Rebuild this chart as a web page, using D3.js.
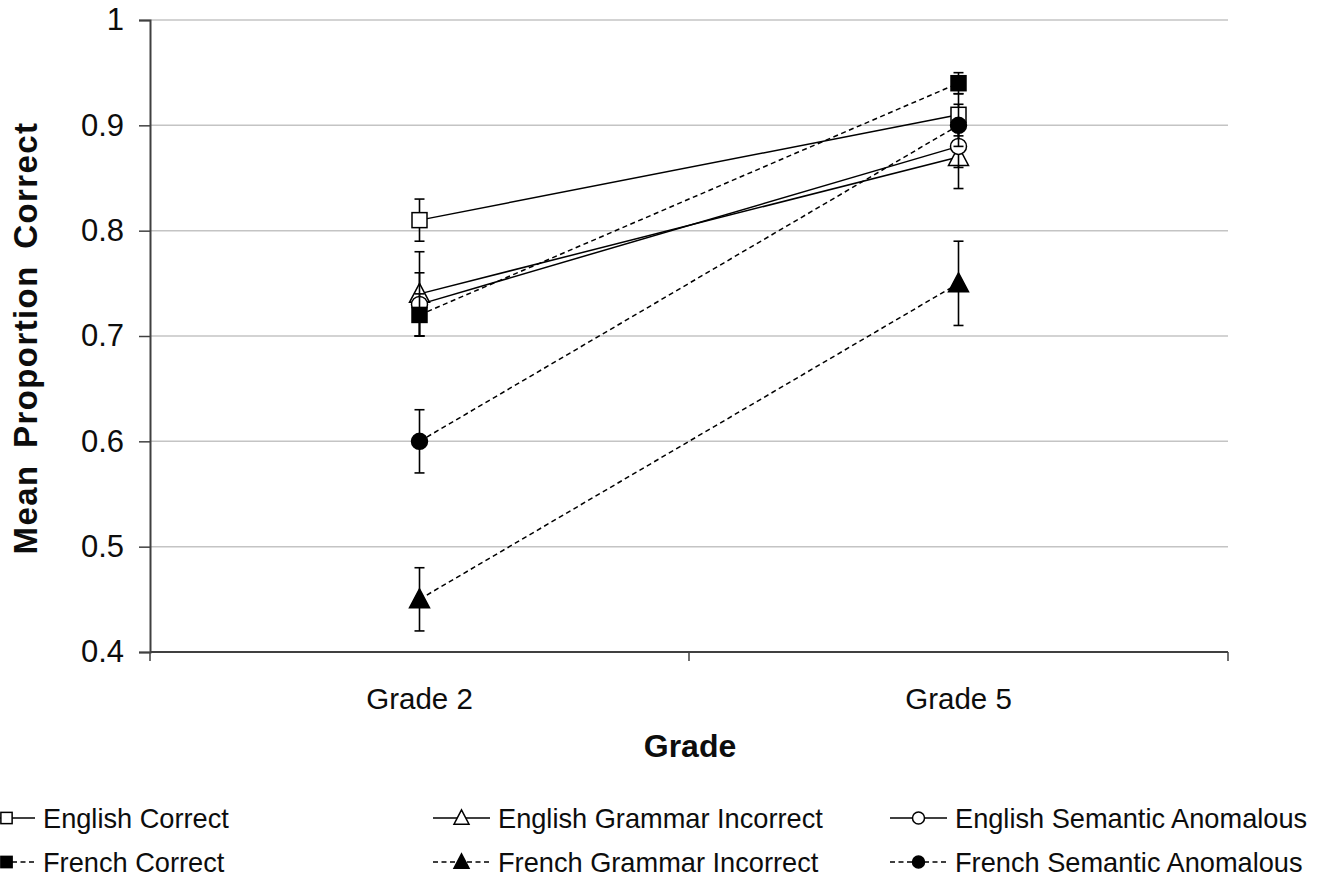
<!DOCTYPE html>
<html>
<head>
<meta charset="utf-8">
<script src="https://cdn.jsdelivr.net/npm/d3@7"></script>
<style>
  html, body { margin: 0; padding: 0; background: #fff; }
  svg { display: block; font-family: "Liberation Sans", Arial, sans-serif; }
</style>
</head>
<body>
<svg id="chart" width="1342" height="884"></svg>
<script>
// Grades on the x axis
const grades = ["Grade 2", "Grade 5"];

// Series names, in legend / drawing order
const seriesNames = [
  "English Correct", "English Grammar Incorrect", "English Semantic Anomalous",
  "French Correct", "French Grammar Incorrect", "French Semantic Anomalous"
];

// Mean proportion correct for each series (Grade 2, Grade 5)
const englishCorrect   = [0.81, 0.91];
const englishGrammar   = [0.74, 0.87];
const englishSemantic  = [0.73, 0.88];
const frenchCorrect    = [0.72, 0.94];
const frenchGrammar    = [0.45, 0.75];
const frenchSemantic   = [0.60, 0.90];

// Error bar half-widths (Grade 2, Grade 5)
const englishCorrectErr  = [0.02, 0.02];
const englishGrammarErr  = [0.04, 0.03];
const englishSemanticErr = [0.03, 0.02];
const frenchCorrectErr   = [0.02, 0.01];
const frenchGrammarErr   = [0.03, 0.04];
const frenchSemanticErr  = [0.03, 0.02];

// Y axis tick labels
const yTicks = [0.4, 0.5, 0.6, 0.7, 0.8, 0.9, 1];

const values = [englishCorrect, englishGrammar, englishSemantic, frenchCorrect, frenchGrammar, frenchSemantic];
const errors = [englishCorrectErr, englishGrammarErr, englishSemanticErr, frenchCorrectErr, frenchGrammarErr, frenchSemanticErr];
const shapes = ["square", "triangle", "circle", "square", "triangle", "circle"];
const filled = [false, false, false, true, true, true];
const dashed = [false, false, false, true, true, true];

const series = seriesNames.map((name, i) => ({
  name, shape: shapes[i], filled: filled[i], dashed: dashed[i],
  points: grades.map((g, j) => ({ grade: g, value: values[i][j], err: errors[i][j] }))
}));

const svg = d3.select("#chart");
const plot = { left: 150, right: 1228, top: 20, bottom: 652 };

const x = d3.scaleBand().domain(grades).range([plot.left, plot.right]).padding(0);
const y = d3.scaleLinear().domain([0.4, 1]).range([plot.bottom, plot.top]);
const cx = g => x(g) + x.bandwidth() / 2;

const axisColor = "#404040";
const textColor = "#0d0d0d";
const DASH = "5,3.5";

// Horizontal gridlines
svg.append("g")
  .selectAll("line")
  .data(yTicks.filter(t => t > 0.4))
  .join("line")
  .attr("x1", plot.left).attr("x2", plot.right)
  .attr("y1", d => y(d)).attr("y2", d => y(d))
  .attr("stroke", "#c4c4c4").attr("stroke-width", 1.5);

// Y axis
const yAxis = svg.append("g")
  .attr("transform", `translate(${plot.left},0)`)
  .call(d3.axisLeft(y).tickValues(yTicks).tickFormat(d => d === 1 ? "1" : d3.format(".1f")(d)).tickSize(11).tickPadding(15));
yAxis.select(".domain").attr("stroke", axisColor).attr("stroke-width", 2);
yAxis.selectAll(".tick line").attr("stroke", axisColor).attr("stroke-width", 1.5);
yAxis.selectAll(".tick text").attr("font-size", 31).attr("fill", textColor).attr("font-family", "Liberation Sans, Arial, sans-serif");

// X axis with tick marks at band boundaries
const xAxisG = svg.append("g").attr("transform", `translate(0,${plot.bottom})`);
xAxisG.append("line")
  .attr("x1", plot.left).attr("x2", plot.right)
  .attr("stroke", axisColor).attr("stroke-width", 2);
const boundaries = grades.map(g => x(g)).concat([x(grades[grades.length - 1]) + x.bandwidth()]);
xAxisG.selectAll(".bt").data(boundaries).join("line")
  .attr("class", "bt")
  .attr("x1", d => d).attr("x2", d => d).attr("y1", 0).attr("y2", 9)
  .attr("stroke", axisColor).attr("stroke-width", 1.5);
xAxisG.selectAll(".gl").data(grades).join("text")
  .attr("class", "gl")
  .attr("x", d => cx(d)).attr("y", 57)
  .attr("text-anchor", "middle").attr("font-size", 29.5).attr("fill", textColor)
  .text(d => d);

// Axis titles
svg.append("text")
  .attr("x", 690).attr("y", 757)
  .attr("text-anchor", "middle").attr("font-size", 32).attr("font-weight", "bold").attr("fill", textColor)
  .text("Grade");
svg.append("text")
  .attr("transform", "translate(37,338) rotate(-90)")
  .attr("text-anchor", "middle").attr("font-size", 33).attr("font-weight", "bold").attr("fill", textColor)
  .attr("letter-spacing", 1.4).attr("word-spacing", 6)
  .text("Mean Proportion Correct");

// Marker drawing helper
function drawMarker(sel, shape, isFilled, scale) {
  const s = scale || 1;
  const fill = isFilled ? "#000" : "#fff";
  if (shape === "square") {
    const h = 7.5 * s;
    sel.append("rect").attr("x", -h).attr("y", -h).attr("width", 2 * h).attr("height", 2 * h)
      .attr("fill", fill).attr("stroke", "#000").attr("stroke-width", 1.5);
  } else if (shape === "circle") {
    sel.append("circle").attr("r", 8 * s)
      .attr("fill", fill).attr("stroke", "#000").attr("stroke-width", 1.5);
  } else {
    const w = 10 * s, h = 9.5 * s;
    sel.append("path").attr("d", `M0,${-h - 1}L${w},${h - 1}L${-w},${h - 1}Z`)
      .attr("fill", fill).attr("stroke", "#000").attr("stroke-width", 1.5).attr("stroke-linejoin", "miter");
  }
}

const line = d3.line().x(d => cx(d.grade)).y(d => y(d.value));

// Series: error bars, connecting line, then markers
series.forEach(s => {
  const g = svg.append("g");
  const eb = g.selectAll(".eb").data(s.points).join("g").attr("class", "eb");
  eb.append("line")
    .attr("x1", d => cx(d.grade)).attr("x2", d => cx(d.grade))
    .attr("y1", d => y(d.value + d.err)).attr("y2", d => y(d.value - d.err))
    .attr("stroke", "#000").attr("stroke-width", 1.6);
  [1, -1].forEach(sign => {
    eb.append("line")
      .attr("x1", d => cx(d.grade) - 5).attr("x2", d => cx(d.grade) + 5)
      .attr("y1", d => y(d.value + sign * d.err)).attr("y2", d => y(d.value + sign * d.err))
      .attr("stroke", "#000").attr("stroke-width", 1.6);
  });
  g.append("path").datum(s.points)
    .attr("d", line).attr("fill", "none")
    .attr("stroke", "#000").attr("stroke-width", 1.5)
    .attr("stroke-dasharray", s.dashed ? DASH : null);
  s.points.forEach(p => {
    const m = g.append("g").attr("transform", `translate(${cx(p.grade)},${y(p.value)})`);
    drawMarker(m, s.shape, s.filled, 1);
  });
});

// Legend: 3 columns x 2 rows
const legendCols = [-22, 433, 890];
const legendRows = [818, 862];
const legend = svg.append("g");
series.forEach((s, i) => {
  const col = i % 3, row = Math.floor(i / 3);
  const lx = legendCols[col], ly = legendRows[row];
  const item = legend.append("g").attr("transform", `translate(${lx},${ly})`);
  item.append("line").attr("x1", 0).attr("x2", 57).attr("y1", 0).attr("y2", 0)
    .attr("stroke", "#000").attr("stroke-width", 1.5)
    .attr("stroke-dasharray", s.dashed ? DASH : null);
  const m = item.append("g").attr("transform", "translate(28.5,0)");
  drawMarker(m, s.shape, s.filled, 0.75);
  item.append("text").attr("x", 65).attr("y", 10)
    .attr("font-size", 27.2).attr("fill", textColor)
    .text(s.name);
});
</script>
</body>
</html>
